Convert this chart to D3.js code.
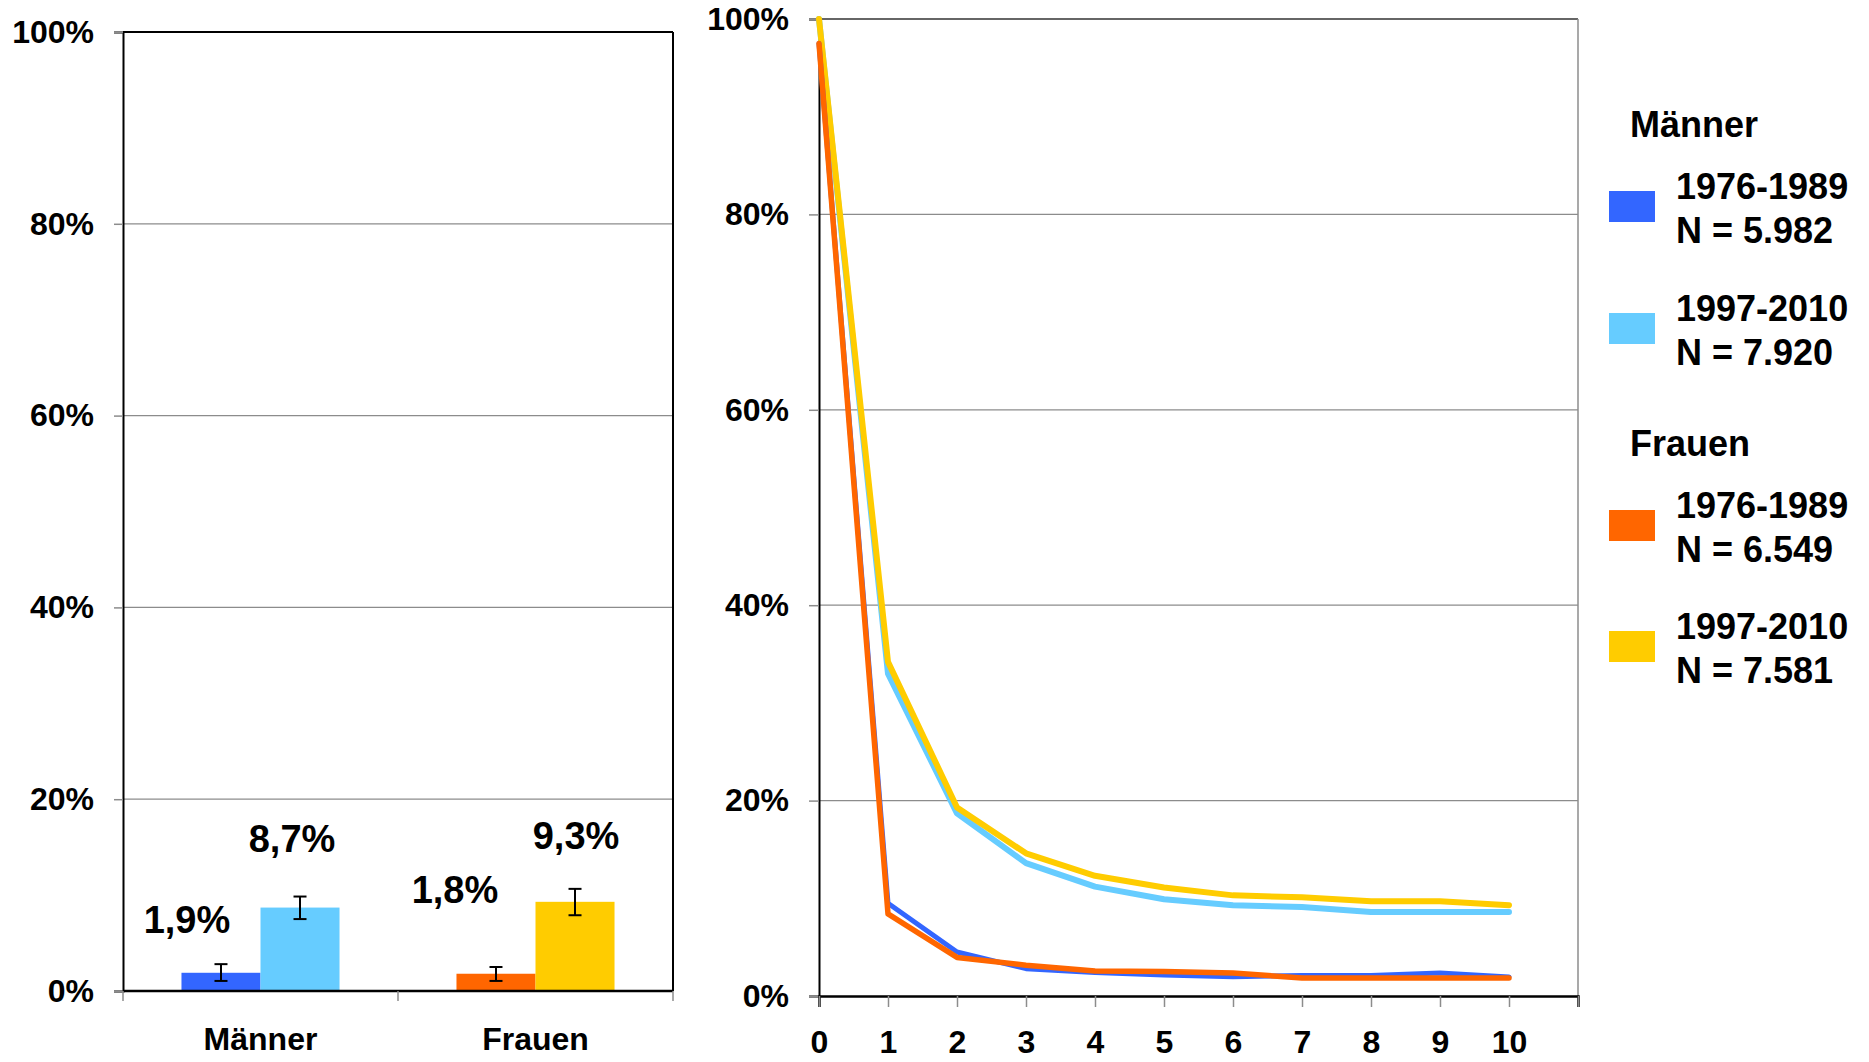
<!DOCTYPE html>
<html>
<head>
<meta charset="utf-8">
<script src="https://cdn.jsdelivr.net/npm/d3@7"></script>
<style>
  body { margin: 0; background: #fff; }
  svg { display: block; }
  text { font-family: "Liberation Sans", Arial, sans-serif; font-weight: bold; fill: #000; }
</style>
</head>
<body>
<svg id="chart" width="1869" height="1062"></svg>
<script>
// ---------- data ----------
const groups = ["Männer", "Frauen"];
const periods = ["1976-1989", "1997-2010"];
const barValues = [[1.9, 8.7], [1.8, 9.3]];          // %
const barErrLow = [[1.05, 7.5], [1.05, 7.9]];        // %
const barErrHigh = [[2.8, 9.85], [2.5, 10.65]];      // %
const barLabels = [["1,9%", "8,7%"], ["1,8%", "9,3%"]];

const years = [0, 1, 2, 3, 4, 5, 6, 7, 8, 9, 10];
const menOld   = [97.5, 9.5, 4.5, 2.8, 2.4, 2.15, 1.97, 2.1, 2.1, 2.35, 1.95];
const menNew   = [100, 33.0, 18.7, 13.6, 11.2, 9.9, 9.3, 9.1, 8.6, 8.6, 8.6];
const womenOld = [97.5, 8.4, 3.95, 3.15, 2.55, 2.5, 2.35, 1.85, 1.85, 1.85, 1.85];
const womenNew = [100, 34.2, 19.3, 14.6, 12.3, 11.1, 10.3, 10.1, 9.7, 9.7, 9.3];

const yTicks = [0, 20, 40, 60, 80, 100];
const xTicks = [0, 1, 2, 3, 4, 5, 6, 7, 8, 9, 10, 11];
const xTickLabels = ["0", "1", "2", "3", "4", "5", "6", "7", "8", "9", "10", ""];

const legendTitles = ["Männer", "Frauen"];
const legendNs = [["N = 5.982", "N = 7.920"], ["N = 6.549", "N = 7.581"]];

// ---------- styles ----------
const colors = [["#3366FF", "#66CCFF"], ["#FF6600", "#FFCC00"]];
const labelOffsets = [[[-34, -40], [-8, -56]], [[-41, -71], [1, -53]]];
const gridColor = "#8c8c8c";
const axisFont = 32;

const svg = d3.select("#chart");
const fmtPct = d => d + "%";

// ================= LEFT: bar chart =================
const L = { left: 123, right: 673, top: 32, bottom: 991 };
const yL = d3.scaleLinear().domain([0, 100]).range([L.bottom, L.top]);
const x0 = d3.scaleBand().domain(groups).range([L.left, L.right]);
const x1 = d3.scaleBand().domain(periods).range([0, x0.bandwidth()]).paddingOuter(0.74);

const gL = svg.append("g");
gL.selectAll("line.grid").data(yTicks.filter(t => t > 0 && t < 100)).join("line")
  .attr("x1", L.left).attr("x2", L.right)
  .attr("y1", d => yL(d)).attr("y2", d => yL(d))
  .attr("stroke", gridColor).attr("stroke-width", 1.3);

const yAxisL = d3.axisLeft(yL).tickValues(yTicks).tickFormat(fmtPct).tickSize(9).tickPadding(20);
const axL = gL.append("g").attr("transform", `translate(${L.left},0)`).call(yAxisL);
axL.select(".domain").attr("stroke", "#000").attr("stroke-width", 2);
axL.selectAll(".tick line").attr("stroke", gridColor).attr("stroke-width", 1.5);
axL.selectAll(".tick text").attr("font-size", axisFont).attr("font-family", "Liberation Sans, Arial, sans-serif").attr("font-weight", "bold").attr("fill", "#000");

gL.append("line").attr("x1", L.left).attr("x2", L.right).attr("y1", L.top).attr("y2", L.top).attr("stroke", "#000").attr("stroke-width", 2);
gL.append("line").attr("x1", L.right).attr("x2", L.right).attr("y1", L.top).attr("y2", L.bottom).attr("stroke", "#000").attr("stroke-width", 2);

groups.forEach((g, gi) => {
  periods.forEach((p, pi) => {
    const v = barValues[gi][pi];
    const bx = x0(g) + x1(p);
    const cx = bx + x1.bandwidth() / 2;
    gL.append("rect").attr("x", bx).attr("y", yL(v))
      .attr("width", x1.bandwidth()).attr("height", yL(0) - yL(v))
      .attr("fill", colors[gi][pi]);
    const lo = yL(barErrLow[gi][pi]), hi = yL(barErrHigh[gi][pi]);
    const eb = gL.append("g").attr("stroke", "#000").attr("stroke-width", 2);
    eb.append("line").attr("x1", cx).attr("x2", cx).attr("y1", lo).attr("y2", hi);
    eb.append("line").attr("x1", cx - 6.5).attr("x2", cx + 6.5).attr("y1", lo).attr("y2", lo);
    eb.append("line").attr("x1", cx - 6.5).attr("x2", cx + 6.5).attr("y1", hi).attr("y2", hi);
    const off = labelOffsets[gi][pi];
    gL.append("text").attr("x", cx + off[0]).attr("y", yL(v) + off[1])
      .attr("text-anchor", "middle").attr("font-size", 38).text(barLabels[gi][pi]);
  });
});

gL.append("line").attr("x1", L.left).attr("x2", L.right).attr("y1", L.bottom).attr("y2", L.bottom).attr("stroke", "#000").attr("stroke-width", 2.5);
const sepTicks = [L.left, x0("Frauen"), L.right];
gL.selectAll("line.sep").data(sepTicks).join("line")
  .attr("x1", d => d).attr("x2", d => d).attr("y1", L.bottom).attr("y2", L.bottom + 10)
  .attr("stroke", gridColor).attr("stroke-width", 1.5);
gL.selectAll("text.cat").data(groups).join("text")
  .attr("x", d => x0(d) + x0.bandwidth() / 2).attr("y", 1050)
  .attr("text-anchor", "middle").attr("font-size", axisFont).text(d => d);

// ================= RIGHT: line chart =================
const R = { left: 819, right: 1578, top: 19, bottom: 996 };
const xR = d3.scaleLinear().domain([0, 11]).range([R.left, R.right]);
const yR = d3.scaleLinear().domain([0, 100]).range([R.bottom, R.top]);
const gR = svg.append("g");

gR.selectAll("line.grid").data(yTicks.filter(t => t > 0 && t < 100)).join("line")
  .attr("x1", R.left).attr("x2", R.right)
  .attr("y1", d => yR(d)).attr("y2", d => yR(d))
  .attr("stroke", gridColor).attr("stroke-width", 1.3);
gR.append("line").attr("x1", R.left).attr("x2", R.right).attr("y1", R.top).attr("y2", R.top).attr("stroke", "#333").attr("stroke-width", 1.5);
gR.append("line").attr("x1", R.right).attr("x2", R.right).attr("y1", R.top).attr("y2", R.bottom).attr("stroke", gridColor).attr("stroke-width", 1.5);

const yAxisR = d3.axisLeft(yR).tickValues(yTicks).tickFormat(fmtPct).tickSize(10).tickPadding(20);
const axR = gR.append("g").attr("transform", `translate(${R.left},0)`).call(yAxisR);
axR.select(".domain").attr("stroke", "#000").attr("stroke-width", 2);
axR.selectAll(".tick line").attr("stroke", gridColor).attr("stroke-width", 1.5);
axR.selectAll(".tick text").attr("font-size", axisFont).attr("font-family", "Liberation Sans, Arial, sans-serif").attr("font-weight", "bold").attr("fill", "#000");

const xAxisR = d3.axisBottom(xR).tickValues(xTicks).tickFormat((d, i) => xTickLabels[i]).tickSize(11).tickPadding(23);
const axRx = gR.append("g").attr("transform", `translate(0,${R.bottom})`).call(xAxisR);
axRx.select(".domain").attr("stroke", "#000").attr("stroke-width", 2.5);
axRx.selectAll(".tick line").attr("stroke", gridColor).attr("stroke-width", 1.5);
axRx.selectAll(".tick text").attr("font-size", axisFont).attr("font-family", "Liberation Sans, Arial, sans-serif").attr("font-weight", "bold").attr("fill", "#000");

const line = d3.line().x((d, i) => xR(years[i])).y(d => yR(d));
const series = [
  { v: menNew, c: colors[0][1], w: 6 },
  { v: womenNew, c: colors[1][1], w: 6 },
  { v: menOld, c: colors[0][0], w: 5 },
  { v: womenOld, c: colors[1][0], w: 5.5 }
];
gR.selectAll("path.series").data(series).join("path")
  .attr("d", d => line(d.v)).attr("fill", "none")
  .attr("stroke", d => d.c).attr("stroke-width", d => d.w)
  .attr("stroke-linejoin", "round").attr("stroke-linecap", "round");

// ================= LEGEND =================
const gLeg = svg.append("g");
const titleY = [137, 456];
const swatchY = [[191, 313], [510, 631]];
legendTitles.forEach((t, gi) => {
  gLeg.append("text").attr("x", 1630).attr("y", titleY[gi]).attr("font-size", 36).text(t);
  periods.forEach((p, pi) => {
    const sy = swatchY[gi][pi];
    gLeg.append("rect").attr("x", 1609).attr("y", sy).attr("width", 46).attr("height", 31).attr("fill", colors[gi][pi]);
    gLeg.append("text").attr("x", 1676).attr("y", sy + 8).attr("font-size", 36).text(p);
    gLeg.append("text").attr("x", 1676).attr("y", sy + 52).attr("font-size", 36).text(legendNs[gi][pi]);
  });
});
</script>
</body>
</html>
